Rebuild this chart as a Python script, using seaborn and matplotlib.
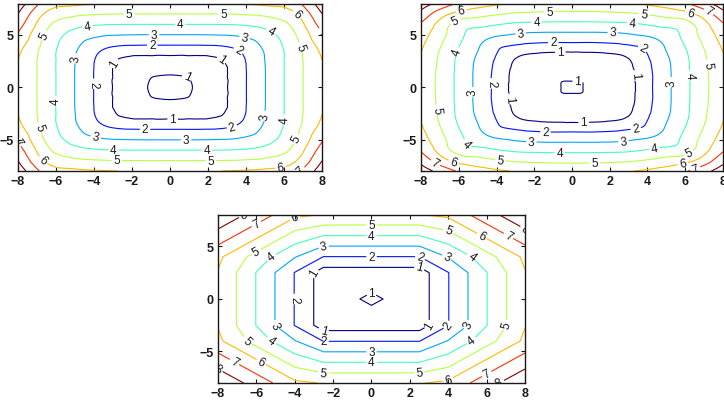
import numpy as np
import matplotlib
matplotlib.use("Agg")
import matplotlib.pyplot as plt
import matplotlib.tri as mtri
import seaborn as sns

# quarter-plane samples (x >= 0, y >= 0): rows are y nodes, columns are x nodes
# the full surface is the mirror image of the quarter in x and y
nodes_top_left = [0, 1.5, 2.5, 3.5, 5, 6.5, 8]
z_top_left = [
    [1.30, 0.90, 0.60, 1.50, 2.98, 4.50, 5.98],
    [0.90, 0.80, 0.60, 1.50, 2.98, 4.50, 5.98],
    [0.60, 0.60, 0.81, 1.57, 3.01, 4.50, 5.99],
    [1.50, 1.50, 1.57, 1.93, 3.09, 4.53, 6.20],
    [2.98, 2.98, 3.01, 3.09, 3.61, 4.85, 6.90],
    [4.50, 4.50, 4.50, 4.53, 4.75, 5.50, 7.70],
    [5.97, 5.97, 5.99, 6.05, 6.20, 6.60, 8.60],
]
nodes_top_right = [0, 1.5, 3, 4.5, 6, 8]
z_top_right = [
    [1.08, 0.80, 0.75, 2.25, 3.75, 5.75],
    [0.80, 0.80, 0.80, 2.26, 3.76, 5.80],
    [0.75, 0.80, 1.10, 2.46, 3.84, 5.95],
    [2.25, 2.26, 2.46, 2.95, 4.18, 6.30],
    [3.75, 3.76, 3.84, 4.18, 4.60, 6.90],
    [5.75, 5.80, 5.95, 6.30, 6.90, 8.60],
]
nodes_bottom = [0, 2.5, 4, 6, 8]
z_bottom = [
    [1.16, 0.50, 1.97, 3.97, 5.95],
    [0.50, 0.50, 1.97, 3.97, 5.95],
    [1.97, 1.97, 3.05, 4.60, 6.20],
    [3.97, 3.97, 4.60, 6.20, 7.60],
    [5.95, 5.95, 6.20, 7.60, 8.80],
]

levels = [1, 2, 3, 4, 5, 6, 7, 8]
x_ticks = [-8, -6, -4, -2, 0, 2, 4, 6, 8]
y_ticks = [-5, 0, 5]

sns.set_theme(style="ticks")
plt.rcParams["font.family"] = ["Liberation Sans", "DejaVu Sans"]

jet = plt.get_cmap("jet")
line_colors = [jet(i / (len(levels) - 1)) for i in range(len(levels))]


def mirror(nodes, quarter):
    n = len(nodes)
    idx = list(range(n - 1, 0, -1)) + list(range(n))
    axis = np.array([-nodes[i] for i in range(n - 1, 0, -1)] + list(nodes), float)
    Z = np.asarray(quarter, float)[np.ix_(idx, idx)]
    X, Y = np.meshgrid(axis, axis)
    return X, Y, Z


def symmetric_triangulation(X, Y):
    # split every cell along the diagonal that points away from the origin
    ny, nx = X.shape
    tris = []
    for j in range(ny - 1):
        for i in range(nx - 1):
            a = j * nx + i
            b, c = a + 1, a + nx
            d = c + 1
            cx = X[0, i] + X[0, i + 1]
            cy = Y[j, 0] + Y[j + 1, 0]
            if cx * cy > 0:
                tris += [[a, b, d], [a, d, c]]
            else:
                tris += [[a, b, c], [b, d, c]]
    return mtri.Triangulation(X.ravel(), Y.ravel(), np.array(tris))


def label(ax, cs, spacing=95):
    # labels spread along each line at a fixed screen spacing, like MATLAB's clabel
    pts = []
    fig_w, fig_h = ax.figure.bbox.width, ax.figure.bbox.height
    for path in cs.get_paths():
        for seg in path.to_polygons(closed_only=False):
            if len(seg) < 2:
                continue
            d = ax.transData.transform(seg)
            s = np.concatenate([[0], np.cumsum(np.hypot(*np.diff(d, axis=0).T))])
            if s[-1] < 25:
                continue
            n = max(1, int(round(s[-1] / spacing)))
            for t in (np.arange(n) + 0.5) * s[-1] / n:
                k = min(np.searchsorted(s, t), len(seg) - 1)
                if d[k, 0] > fig_w - 8 or d[k, 1] > fig_h - 8 or d[k, 1] < 8:
                    continue
                pts.append((seg[k, 0], seg[k, 1]))
    ax.clabel(cs, manual=pts, fmt="%d", fontsize=8.5, colors="k",
              inline=True, inline_spacing=2)


def smooth_panel(ax, nodes, quarter):
    X, Y, Z = mirror(nodes, quarter)
    tri = symmetric_triangulation(X, Y)
    interp = mtri.CubicTriInterpolator(tri, Z.ravel(), kind="geom")
    fine, zf = mtri.UniformTriRefiner(tri).refine_field(Z.ravel(), triinterpolator=interp, subdiv=4)
    cs = ax.tricontour(fine, zf, levels=levels, colors=line_colors, linewidths=0.8)
    label(ax, cs)


def linear_panel(ax, nodes, quarter):
    X, Y, Z = mirror(nodes, quarter)
    cs = ax.contour(X, Y, Z, levels=levels, colors=line_colors, linewidths=0.8)
    label(ax, cs)


def style(ax):
    ax.set_xlim(-8, 8)
    ax.set_ylim(-8, 8)
    ax.set_xticks(x_ticks)
    ax.set_yticks(y_ticks)
    ax.set_xticklabels([f"\u2212{-t}" if t < 0 else str(t) for t in x_ticks])
    ax.set_yticklabels([f"\u2212{-t}" if t < 0 else str(t) for t in y_ticks])
    ax.tick_params(direction="in", length=3, width=0.8, top=True, right=True,
                   labelsize=9, pad=3, colors="k")
    for lab in ax.get_xticklabels() + ax.get_yticklabels():
        lab.set_fontweight("bold")
    for sp in ax.spines.values():
        sp.set_visible(True)
        sp.set_color("k")
        sp.set_linewidth(1.0)
    ax.set_facecolor("white")


fig = plt.figure(figsize=(7.24, 4.02), dpi=100)
fig.patch.set_facecolor("white")
ax_tl = fig.add_axes([0.0249, 0.5721, 0.4199, 0.4167])
ax_tr = fig.add_axes([0.5815, 0.5721, 0.4171, 0.4167])
ax_b = fig.add_axes([0.3011, 0.0448, 0.4240, 0.4180])
for ax in (ax_tl, ax_tr, ax_b):
    style(ax)

smooth_panel(ax_tl, nodes_top_left, z_top_left)
smooth_panel(ax_tr, nodes_top_right, z_top_right)
linear_panel(ax_b, nodes_bottom, z_bottom)

for ax in (ax_tl, ax_tr, ax_b):
    style(ax)

fig.savefig("out.png", dpi=100, facecolor="white")
